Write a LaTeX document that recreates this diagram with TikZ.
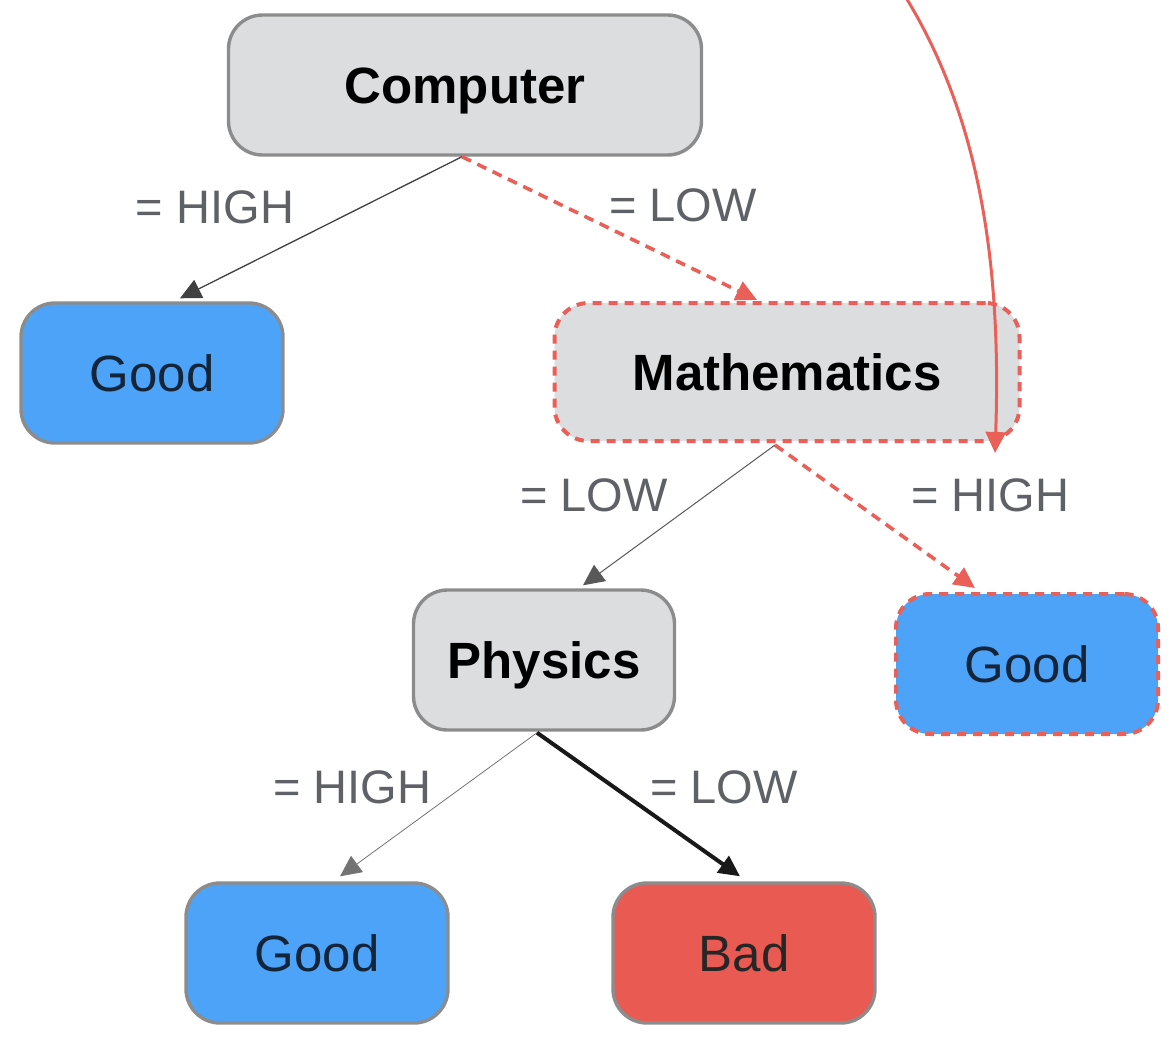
\documentclass[tikz,border=0pt]{standalone}
\usepackage{fontspec}
\setmainfont{Liberation Sans}
\usetikzlibrary{arrows.meta,calc}
\definecolor{boxgrey}{HTML}{DCDDDF}
\definecolor{boxedge}{HTML}{8C8C8C}
\definecolor{goodblue}{HTML}{4DA3F7}
\definecolor{badred}{HTML}{E85A52}
\definecolor{pathred}{HTML}{EA5F58}
\definecolor{labelgrey}{HTML}{5E6166}
\definecolor{bluetext}{HTML}{14253A}
\begin{document}
\begin{tikzpicture}[x=1pt,y=-1pt,
  box/.style={rounded corners=34pt, line width=3.4pt, draw=boxedge,
    minimum height=140pt, inner sep=0pt, text height=36.5pt, text depth=0pt,
    font=\fontsize{51}{56}\selectfont},
  decision/.style={box, fill=boxgrey, font=\fontsize{51}{56}\selectfont\bfseries},
  goodleaf/.style={box, fill=goodblue, minimum width=262pt, text=bluetext},
  badleaf/.style={box, fill=badred, minimum width=262pt, text=black!85},
  onpath/.style={draw=pathred, line width=4pt, dash pattern=on 9pt off 7pt},
  tip/.style={-{Triangle[length=21pt,width=20pt]}},
  thinedge/.style={tip, line width=1pt, draw=black!75},
  pathedge/.style={tip, line width=3.6pt, draw=pathred, dash pattern=on 10pt off 7pt},
  branch/.style={text=labelgrey, font=\fontsize{47}{52}\selectfont}
]
\useasboundingbox (0,0) rectangle (1172,1037);

% decision nodes
\node[decision, minimum width=473pt] (comp) at (465,85) {Computer};
\node[decision, onpath, minimum width=465pt, minimum height=138pt] (math) at (787,372) {Mathematics};
\node[decision, minimum width=261pt] (phys) at (544,660) {Physics};

% leaves
\node[goodleaf] (goodA) at (152,373) {Good};
\node[goodleaf, onpath] (goodB) at (1027,664) {Good};
\node[goodleaf] (goodC) at (317,953) {Good};
\node[badleaf] (bad) at (744,953) {Bad};

% branches
\draw[thinedge, line width=1.3pt] ([xshift=-3pt]comp.south) -- ([xshift=28pt,yshift=3pt]goodA.north);
\draw[pathedge] ([xshift=-3pt]comp.south) -- ([xshift=-30pt,yshift=1pt]math.north);
\draw[thinedge, line width=1pt, draw=black!65] ([xshift=-12pt,yshift=-2pt]math.south) -- ([xshift=39pt,yshift=3pt]phys.north);
\draw[pathedge] ([xshift=-12pt,yshift=-2pt]math.south) -- ([xshift=-52pt,yshift=4pt]goodB.north);
\draw[thinedge, line width=0.8pt, draw=black!55] ([xshift=-7pt,yshift=-1pt]phys.south) -- ([xshift=23pt,yshift=5pt]goodC.north);
\draw[tip, line width=4pt, draw=black!90] ([xshift=-7pt,yshift=-1pt]phys.south) -- ([xshift=-4pt,yshift=5pt]bad.north);

% branch labels
\node[branch] (l1) at (215,207) {= HIGH};
\node[branch] (l2) at (683,205) {= LOW};
\node[branch] (l3) at (594,495) {= LOW};
\node[branch] (l4) at (990,495) {= HIGH};
\node[branch] (l5) at (352,787) {= HIGH};
\node[branch] (l6) at (724,787) {= LOW};

% incoming path from above
\coordinate (incoming) at (905,-4);
\coordinate (arrival) at (995,453);
\draw[tip, line width=3pt, draw=pathred]
  (incoming) .. controls (975,110) and (1002,250) .. (arrival);
\end{tikzpicture}
\end{document}
